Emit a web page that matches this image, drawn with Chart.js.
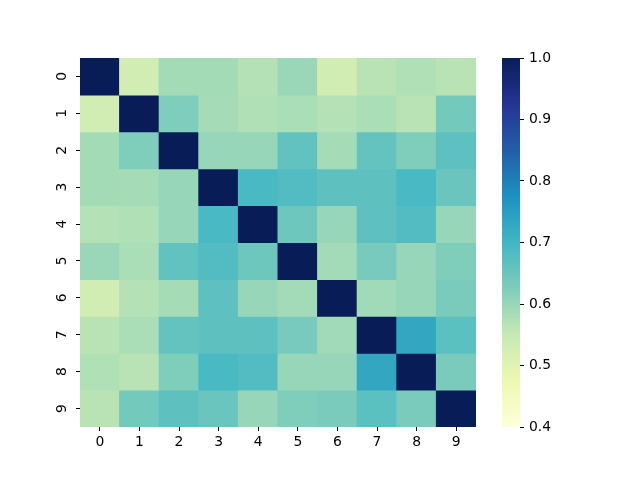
<!DOCTYPE html>
<html>
<head>
<meta charset="utf-8">
<script src="https://cdn.jsdelivr.net/npm/chart.js@4.4.0/dist/chart.umd.min.js"></script>
<style>
  html, body { margin: 0; padding: 0; background: #fff; }
  #wrap { position: relative; width: 640px; height: 480px; }
  #heatCanvas { position: absolute; left: 0; top: 0; }
  #cbarCanvas { position: absolute; left: 480px; top: 0; }
</style>
</head>
<body>
<div id="wrap">
  <canvas id="heatCanvas" width="640" height="480"></canvas>
  <canvas id="cbarCanvas" width="160" height="480"></canvas>
</div>
<script>
// row / column names of the matrix
const labels = ['0', '1', '2', '3', '4', '5', '6', '7', '8', '9'];

// correlation values, one list per row
const corr = [
  [1.00, 0.53, 0.587, 0.587, 0.57, 0.597, 0.528, 0.565, 0.575, 0.565],
  [0.53, 1.00, 0.625, 0.585, 0.575, 0.58, 0.57, 0.58, 0.565, 0.638],
  [0.587, 0.625, 1.00, 0.60, 0.60, 0.66, 0.585, 0.657, 0.625, 0.665],
  [0.587, 0.585, 0.60, 1.00, 0.69, 0.68, 0.665, 0.665, 0.69, 0.65],
  [0.57, 0.575, 0.60, 0.69, 1.00, 0.645, 0.60, 0.665, 0.68, 0.60],
  [0.597, 0.58, 0.66, 0.68, 0.645, 1.00, 0.588, 0.635, 0.60, 0.625],
  [0.528, 0.57, 0.585, 0.665, 0.60, 0.588, 1.00, 0.59, 0.60, 0.63],
  [0.565, 0.58, 0.657, 0.665, 0.665, 0.635, 0.59, 1.00, 0.73, 0.668],
  [0.575, 0.565, 0.625, 0.69, 0.68, 0.60, 0.60, 0.73, 1.00, 0.63],
  [0.565, 0.638, 0.665, 0.65, 0.60, 0.625, 0.63, 0.668, 0.63, 1.00]
];

// colour scale limits and colorbar ticks
const vmin = 0.4;
const vmax = 1.0;
const cbarTicks = [0.4, 0.5, 0.6, 0.7, 0.8, 0.9, 1.0];

// YlGnBu colormap stops
const ylgnbu = ['#ffffd9', '#edf8b1', '#c7e9b4', '#7fcdbb', '#41b6c4', '#1d91c0', '#225ea8', '#253494', '#081d58'];

const tickFont = { family: 'DejaVu Sans', size: 13.9 };

function hexToRgb(h) {
    return [parseInt(h.slice(1, 3), 16), parseInt(h.slice(3, 5), 16), parseInt(h.slice(5, 7), 16)];
}

// map a value to a colour in the colormap
function cmap(v) {
    let t = (v - vmin) / (vmax - vmin);
    t = Math.max(0, Math.min(1, t));
    const pos = t * (ylgnbu.length - 1);
    const i = Math.min(Math.floor(pos), ylgnbu.length - 2);
    const f = pos - i;
    const a = hexToRgb(ylgnbu[i]);
    const b = hexToRgb(ylgnbu[i + 1]);
    const c = a.map((x, k) => Math.round(x + (b[k] - x) * f));
    return `rgb(${c[0]},${c[1]},${c[2]})`;
}

// each row of the matrix is one dataset of floating bars
const heatDatasets = corr.map((row, i) => ({
    label: 'row ' + labels[i],
    data: row.map(() => [i, i + 1]),
    backgroundColor: row.map(v => cmap(v)),
    borderWidth: 0,
    inflateAmount: 0.5,
    grouped: false,
    barPercentage: 1,
    categoryPercentage: 1
}));

new Chart(document.getElementById('heatCanvas').getContext('2d'), {
    type: 'bar',
    data: { labels: labels, datasets: heatDatasets },
    options: {
        responsive: false,
        animation: false,
        layout: { padding: { left: 0, right: 164, top: 58, bottom: 0 } },
        plugins: { legend: { display: false }, tooltip: { enabled: false } },
        scales: {
            x: {
                type: 'category',
                offset: true,
                grid: { offset: false, drawOnChartArea: false, drawTicks: true, tickLength: 4, tickColor: '#000', tickWidth: 1 },
                border: { display: false },
                ticks: { color: '#000', font: tickFont, padding: 3, maxRotation: 0 },
                afterFit: s => { s.height = 53; }
            },
            y: {
                type: 'linear',
                min: 0,
                max: 10,
                reverse: true,
                afterBuildTicks: s => { s.ticks = labels.map((l, i) => ({ value: i + 0.5 })); },
                grid: { drawOnChartArea: false, drawTicks: true, tickLength: 4, tickColor: '#000', tickWidth: 1 },
                border: { display: false },
                ticks: {
                    color: '#000', font: tickFont,
                    callback: (v, i) => labels[i],
                    minRotation: 90, maxRotation: 90,
                    crossAlign: 'center',
                    padding: 9
                },
                afterFit: s => { s.width = 80; }
            }
        }
    }
});

// colorbar drawn as one floating bar filled with the colormap
function cbarGradient(chart) {
    const area = chart.chartArea;
    if (!area) return null;
    const g = chart.ctx.createLinearGradient(0, area.bottom, 0, area.top);
    ylgnbu.forEach((c, i) => g.addColorStop(i / (ylgnbu.length - 1), c));
    return g;
}

new Chart(document.getElementById('cbarCanvas').getContext('2d'), {
    type: 'bar',
    data: {
        labels: ['colorbar'],
        datasets: [{
            data: [[vmin, vmax]],
            backgroundColor: ctx => cbarGradient(ctx.chart),
            borderWidth: 0,
            barPercentage: 1,
            categoryPercentage: 1
        }]
    },
    options: {
        responsive: false,
        animation: false,
        layout: { padding: { left: 22, right: 0, top: 58, bottom: 53 } },
        plugins: { legend: { display: false }, tooltip: { enabled: false } },
        scales: {
            x: { display: false },
            y: {
                position: 'right',
                min: vmin,
                max: vmax,
                afterBuildTicks: s => { s.ticks = cbarTicks.map(v => ({ value: v })); },
                grid: { drawOnChartArea: false, drawTicks: true, tickLength: 4, tickColor: '#000', tickWidth: 1 },
                border: { display: false },
                ticks: { color: '#000', font: tickFont, padding: 5, callback: v => v.toFixed(1) },
                afterFit: s => { s.width = 120; }
            }
        }
    }
});
</script>
</body>
</html>
